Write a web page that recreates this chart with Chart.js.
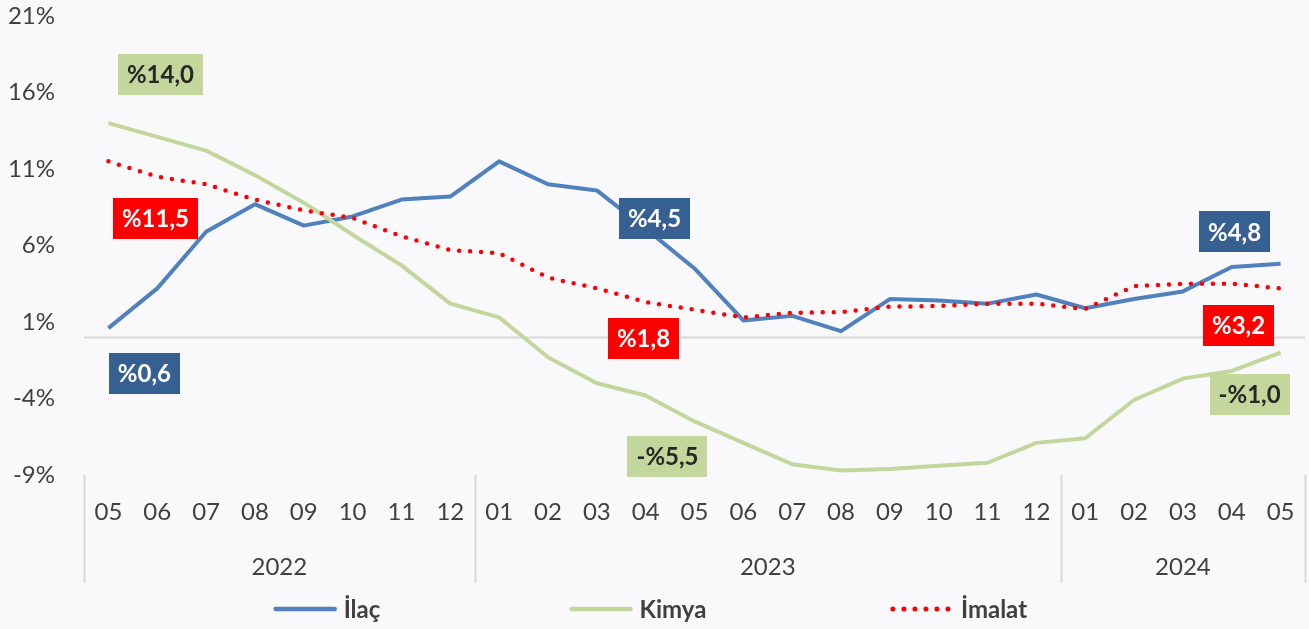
<!DOCTYPE html>
<html>
<head>
<meta charset="utf-8">
<script src="https://cdn.jsdelivr.net/npm/chart.js@4.4.1/dist/chart.umd.min.js"></script>
<style>
  html, body { margin: 0; padding: 0; background: #f9f8fb; }
  #wrap { width: 1309px; height: 629px; position: relative; }
</style>
</head>
<body>
<div id="wrap"><canvas id="chart"></canvas></div>
<script>
// Data: monthly, 2022-05 .. 2024-05
const months = ["05","06","07","08","09","10","11","12",
                "01","02","03","04","05","06","07","08","09","10","11","12",
                "01","02","03","04","05"];
const years = ["2022", "2023", "2024"];
const yearCounts = [8, 12, 5];

const ilac   = [0.6, 3.2, 6.9, 8.7, 7.3, 7.9, 9.0, 9.2, 11.5, 10.0, 9.6, 7.1, 4.5,
                1.1, 1.4, 0.4, 2.5, 2.4, 2.2, 2.8, 1.9, 2.5, 3.0, 4.6, 4.8];
const kimya  = [14.0, 13.1, 12.2, 10.6, 8.8, 6.7, 4.7, 2.2, 1.3, -1.3, -3.0, -3.8, -5.5,
                -6.9, -8.3, -8.7, -8.6, -8.4, -8.2, -6.9, -6.6, -4.1, -2.7, -2.2, -1.0];
const imalat = [11.5, 10.5, 10.0, 9.0, 8.3, 7.8, 6.6, 5.7, 5.5, 3.9, 3.2, 2.3, 1.8,
                1.3, 1.6, 1.65, 2.0, 2.05, 2.2, 2.2, 1.85, 3.35, 3.5, 3.5, 3.2];

const FONT = "Lato";
const TEXT = "#404040";
const GRID = "#d9d9d9";

// which points get a boxed value label, and where the box sits relative to the point
const labelSpots = [
  {ds: 0, i: 0,  dx: 36,  dy: 45},
  {ds: 1, i: 0,  dx: 52,  dy: -49},
  {ds: 2, i: 0,  dx: 47,  dy: 57},
  {ds: 0, i: 12, dx: -40, dy: -50},
  {ds: 2, i: 12, dx: -51, dy: 29},
  {ds: 1, i: 12, dx: -27, dy: 35},
  {ds: 0, i: 24, dx: -46, dy: -32},
  {ds: 2, i: 24, dx: -42, dy: 37},
  {ds: 1, i: 24, dx: -31, dy: 42}
];

function fmt(v) {
  const s = Math.abs(v).toFixed(1).replace(".", ",");
  return v < 0 ? "-%" + s : "%" + s;
}

const boxLabels = {
  id: "boxLabels",
  afterDatasetsDraw(chart) {
    const ctx = chart.ctx;
    ctx.save();
    ctx.font = "bold 24px " + FONT;
    ctx.textAlign = "center";
    ctx.textBaseline = "middle";
    labelSpots.forEach((s) => {
      const ds = chart.data.datasets[s.ds];
      const pt = chart.getDatasetMeta(s.ds).data[s.i];
      const txt = fmt(ds.data[s.i]);
      const w = ctx.measureText(txt).width + 18;
      const h = 41;
      const cx = pt.x + s.dx, cy = pt.y + s.dy;
      ctx.fillStyle = ds.boxColor;
      ctx.fillRect(Math.round(cx - w / 2), Math.round(cy - h / 2), Math.round(w), h);
      ctx.fillStyle = ds.boxText;
      ctx.fillText(txt, cx, cy + 1);
    });
    ctx.restore();
  }
};

// zero line, year groups and separators, custom legend
const decorations = {
  id: "decorations",
  beforeDatasetsDraw(chart) {
    const ctx = chart.ctx, y = chart.scales.y, a = chart.chartArea;
    const y0 = Math.round(y.getPixelForValue(0)) + 0.5;
    ctx.save();
    ctx.strokeStyle = GRID;
    ctx.lineWidth = 2;
    ctx.beginPath();
    ctx.moveTo(a.left, y0);
    ctx.lineTo(a.right, y0);
    ctx.stroke();
    ctx.restore();
  },
  afterDraw(chart) {
    const ctx = chart.ctx, x = chart.scales.x, a = chart.chartArea;
    ctx.save();
    // separators + years
    ctx.strokeStyle = GRID;
    ctx.lineWidth = 2;
    ctx.fillStyle = TEXT;
    ctx.font = "24px " + FONT;
    ctx.textAlign = "center";
    ctx.textBaseline = "middle";
    let start = 0;
    const edges = [x.getPixelForValue(-0.5)];
    years.forEach((yr, k) => {
      const end = start + yearCounts[k];
      const left = x.getPixelForValue(start - 0.5);
      const right = x.getPixelForValue(end - 0.5);
      edges.push(right);
      ctx.fillText(yr, (left + right) / 2, a.bottom + 92);
      start = end;
    });
    edges.forEach((px) => {
      ctx.beginPath();
      ctx.moveTo(Math.round(px) + 0.5, a.bottom);
      ctx.lineTo(Math.round(px) + 0.5, a.bottom + 108);
      ctx.stroke();
    });

    // legend
    const ly = 609;
    const centers = [327, 638, 959];
    ctx.font = "bold 24px " + FONT;
    ctx.textAlign = "left";
    chart.data.datasets.forEach((ds, k) => {
      const tw = ctx.measureText(ds.label).width;
      const total = 63 + 7 + tw;
      const x0 = centers[k] - total / 2;
      ctx.strokeStyle = ds.borderColor;
      ctx.lineWidth = ds.borderWidth + 0.5;
      ctx.lineCap = "round";
      ctx.setLineDash(ds.borderDash || []);
      ctx.beginPath();
      ctx.moveTo(x0 + 2, ly);
      ctx.lineTo(x0 + 61, ly);
      ctx.stroke();
      ctx.setLineDash([]);
      ctx.fillStyle = TEXT;
      ctx.fillText(ds.label, x0 + 70, ly + 1);
    });
    ctx.restore();
  }
};

const chartData = {
  labels: months,
  datasets: [
    {
      label: "İlaç",
      data: ilac,
      borderColor: "#4f81bd",
      borderWidth: 4,
      boxColor: "#376092",
      boxText: "#ffffff",
      order: 3
    },
    {
      label: "Kimya",
      data: kimya,
      borderColor: "#c3d69b",
      borderWidth: 4,
      boxColor: "#c3d69b",
      boxText: "#262626",
      order: 2
    },
    {
      label: "İmalat",
      data: imalat,
      borderColor: "#ff0000",
      borderWidth: 4.5,
      borderDash: [0, 11],
      borderCapStyle: "round",
      boxColor: "#ff0000",
      boxText: "#ffffff",
      order: 1
    }
  ]
};

const chartOptions = {
  responsive: false,
  animation: false,
  layout: { padding: { top: 16, right: 4, left: 0, bottom: 0 } },
  elements: {
    point: { radius: 0, hoverRadius: 0 },
    line: { tension: 0, fill: false, borderJoinStyle: "round" }
  },
  plugins: {
    legend: { display: false },
    tooltip: { enabled: false }
  },
  scales: {
    x: {
      type: "category",
      offset: true,
      grid: { display: false, drawTicks: false },
      border: { display: false },
      ticks: {
        color: TEXT,
        font: { family: FONT, size: 24 },
        padding: 23,
        maxRotation: 0,
        autoSkip: false
      },
      afterFit: (scale) => {
        scale.height = 154;
        scale.paddingLeft = 0;
        scale.paddingRight = 0;
      }
    },
    y: {
      min: -9,
      max: 21,
      grid: { display: false, drawTicks: false },
      border: { display: false },
      ticks: {
        stepSize: 5,
        color: TEXT,
        font: { family: FONT, size: 24 },
        padding: 29,
        callback: (v) => v + "%"
      },
      afterFit: (scale) => {
        scale.width = 84;
        scale.paddingTop = 0;
        scale.paddingBottom = 0;
      }
    }
  }
};

const canvas = document.getElementById("chart");
canvas.width = 1309;
canvas.height = 629;
new Chart(canvas, {
  type: "line",
  data: chartData,
  options: chartOptions,
  plugins: [decorations, boxLabels]
});
</script>
</body>
</html>
